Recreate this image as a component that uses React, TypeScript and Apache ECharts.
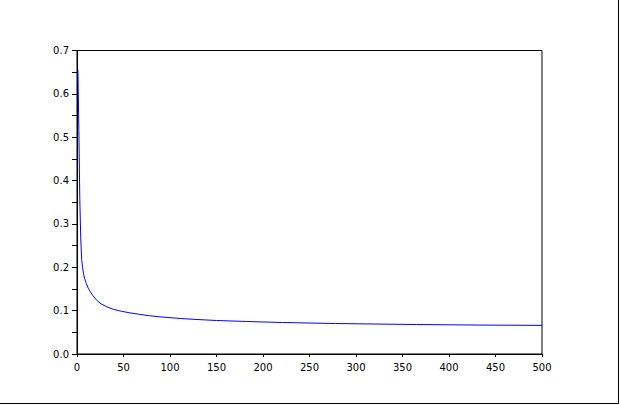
import { useEffect, useRef } from 'react'
import * as echarts from 'echarts'

// values
const xValues = [1, 2, 3, 4, 5, 6, 7, 8, 10, 12, 14, 17, 21, 26, 32, 39, 48, 57, 67, 77, 88, 100, 111, 129, 150, 182, 221, 278, 365, 430, 500]
const yValues = [0.655, 0.515, 0.358, 0.268, 0.218, 0.2, 0.186, 0.175, 0.163, 0.152, 0.145, 0.135, 0.1245, 0.1155, 0.109, 0.103, 0.0985, 0.0948, 0.0915, 0.0885, 0.086, 0.0838, 0.0819, 0.0796, 0.0773, 0.075, 0.0726, 0.0703, 0.068, 0.0668, 0.066]

export default function App() {
  const chartRef = useRef<HTMLDivElement>(null)

  useEffect(() => {
    if (!chartRef.current) return

    const chart = echarts.init(chartRef.current, undefined, { renderer: 'svg' })

    const labelStyle = {
      color: '#000000',
      fontSize: 10,
      fontFamily: 'DejaVu Sans'
    }

    const option = {
      animation: false,
      backgroundColor: '#ffffff',
      grid: {
        left: 77,
        top: 50.5,
        right: 78,
        bottom: 51,
        show: true,
        borderColor: '#000000',
        borderWidth: 1,
        containLabel: false
      },
      xAxis: {
        type: 'value',
        min: 0,
        max: 500,
        interval: 50,
        axisLine: { show: true, onZero: false, lineStyle: { color: '#000000', width: 1 } },
        axisTick: { show: true, length: 3, lineStyle: { color: '#000000' } },
        axisLabel: { ...labelStyle, margin: 8 },
        splitLine: { show: false }
      },
      yAxis: {
        type: 'value',
        min: 0,
        max: 0.7,
        interval: 0.1,
        axisLine: { show: true, onZero: false, lineStyle: { color: '#000000', width: 1 } },
        axisTick: { show: true, length: 5, lineStyle: { color: '#000000' } },
        minorTick: { show: true, splitNumber: 2, length: 5, lineStyle: { color: '#000000' } },
        axisLabel: {
          ...labelStyle,
          margin: 8,
          formatter: (value: number) => value.toFixed(1)
        },
        splitLine: { show: false }
      },
      series: [
        {
          type: 'line',
          data: xValues.map((x, i) => [x, yValues[i]]),
          showSymbol: false,
          lineStyle: { color: '#0000ff', width: 1 },
          itemStyle: { color: '#0000ff' }
        }
      ],
      graphic: [
        { type: 'line', shape: { x1: 618.5, y1: 0, x2: 618.5, y2: 403.5 }, style: { stroke: '#000000', lineWidth: 1 } },
        { type: 'line', shape: { x1: 0, y1: 403.5, x2: 618.5, y2: 403.5 }, style: { stroke: '#000000', lineWidth: 1 } }
      ]
    }

    chart.setOption(option)

    return () => {
      chart.dispose()
    }
  }, [])

  return (
    <div
      ref={chartRef}
      style={{ position: 'fixed', left: 0, top: 0, width: 620, height: 405 }}
    />
  )
}
